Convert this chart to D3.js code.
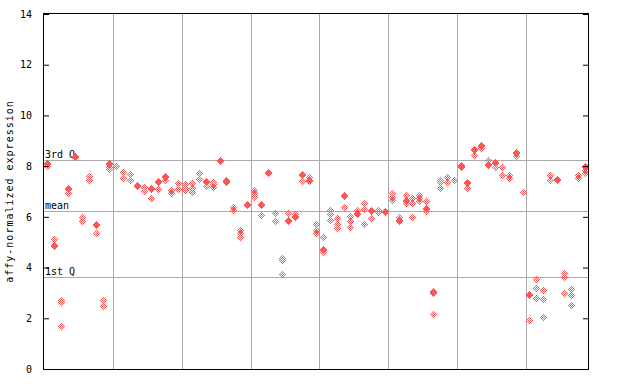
<!DOCTYPE html>
<html>
<head>
<meta charset="utf-8">
<script src="https://cdn.jsdelivr.net/npm/d3@7"></script>
<style>
  body { margin: 0; background: #fff; }
  text { font-family: "DejaVu Sans Mono", monospace; font-size: 10px; fill: #000; }
</style>
</head>
<body>
<div id="chart"></div>
<script>
'use strict';

// one list of expression values per sample (left to right)
var sampleValues = [
	[8.14, 8.10, 8.0], [5.11, 4.88, 4.84], [2.71, 2.64, 1.68], [7.12, 7.08, 6.93],
	[8.39, 8.35], [6.01, 5.82], [7.62, 7.45], [5.70, 5.66, 5.35],
	[2.71, 2.47], [8.12, 8.08, 7.98, 7.87], [8.01], [7.78, 7.53],
	[7.68, 7.44], [7.24, 7.20], [7.17, 7.03], [7.12, 7.08, 6.73],
	[7.41, 7.37, 7.11], [7.60, 7.56, 7.45], [7.06, 6.93], [7.32, 7.09],
	[7.30, 7.15, 7.04], [7.32, 7.15, 7.0], [7.74, 7.48], [7.43, 7.39, 7.21],
	[7.39, 7.28, 7.17], [8.26, 8.22], [7.47, 7.43, 7.36], [6.40, 6.27],
	[5.47, 5.35, 5.22], [6.50, 6.46], [7.06, 6.93, 6.80], [6.50, 6.46, 6.06],
	[7.78, 7.72], [6.15, 5.84], [4.38, 4.30, 3.73], [6.15, 5.87, 5.83],
	[6.10, 6.03, 5.99], [7.68, 7.64, 7.43], [7.58, 7.47, 7.43], [5.70, 5.47, 5.38],
	[5.19, 4.74, 4.70, 4.63], [6.27, 6.10, 5.86], [5.94, 5.73, 5.57], [6.86, 6.82, 6.38],
	[6.03, 5.85, 5.61], [6.26, 6.14, 6.10], [6.53, 6.30, 5.71], [6.29, 6.25, 5.94],
	[6.28, 6.20], [6.24, 6.20], [6.93, 6.80, 6.66], [5.98, 5.87, 5.83],
	[6.85, 6.66, 6.62, 6.53], [6.73, 6.53, 5.98], [6.86, 6.73, 6.61], [6.61, 6.36, 6.32, 6.24],
	[3.07, 3.03, 2.98, 2.16], [7.45, 7.39, 7.12], [7.58, 7.39], [7.45],
	[8.04, 8.0, 7.96], [7.38, 7.34, 7.12], [8.66, 8.62, 8.44], [8.83, 8.79, 8.70],
	[8.24, 8.08, 8.04], [8.16, 8.12, 7.95], [7.95, 7.67], [7.67, 7.52],
	[8.55, 8.51, 8.40], [6.97], [2.94, 2.90, 1.92], [3.54, 3.18, 2.79],
	[3.10, 2.75, 2.04], [7.67, 7.45], [7.51, 7.47], [3.77, 3.62, 2.98],
	[3.14, 2.90, 2.51], [7.67, 7.52], [8.0, 7.96, 7.85, 7.72]
];
var yTicks = [0, 2, 4, 6, 8, 10, 12, 14];
var xGrid = [10, 20, 30, 40, 50, 60, 70];
var refLines = [8.23, 6.23, 3.63];
var refLabels = ['3rd Q', 'mean', '1st Q'];

var width = 640, height = 384;
var margin = {top: 14, right: 52, bottom: 15, left: 44};
var w = width - margin.left - margin.right;
var h = height - margin.top - margin.bottom;
var red = '#ff5555';

var svg = d3.select('#chart').append('svg')
	.attr('width', width)
	.attr('height', height);

var g = svg.append('g')
	.attr('transform', 'translate(' + margin.left + ',' + margin.top + ')');

var x = d3.scaleLinear().domain([0, sampleValues.length]).range([0, w]);
var y = d3.scaleLinear().domain([0, 14]).range([h, 0]);

// grid
g.selectAll('line.vgrid').data(xGrid).enter().append('line')
	.attr('class', 'vgrid')
	.attr('x1', function(d){ return Math.round(x(d)) + 0.5; })
	.attr('x2', function(d){ return Math.round(x(d)) + 0.5; })
	.attr('y1', 0).attr('y2', h)
	.attr('stroke', '#aaa');

g.selectAll('line.qline').data(refLines).enter().append('line')
	.attr('class', 'qline')
	.attr('x1', 0).attr('x2', w)
	.attr('y1', function(d){ return Math.round(y(d)) + 0.5; })
	.attr('y2', function(d){ return Math.round(y(d)) + 0.5; })
	.attr('stroke', '#aaa');

g.selectAll('text.qlabel').data(refLines).enter().append('text')
	.attr('class', 'qlabel')
	.attr('x', 1)
	.attr('y', function(d){ return Math.round(y(d)) - 2; })
	.text(function(d, i){ return refLabels[i]; });

// points: each drawn as a checkered pixel diamond, so near-identical values fill in
var points = [];
sampleValues.forEach(function(vals, i){
	vals.forEach(function(v){ points.push({i: i, v: v}); });
});

function diamond(d){
	var cx = Math.round(x(d.i + 0.5)), cy = Math.round(y(d.v));
	var p = '';
	for (var dy = -3; dy <= 3; dy++) {
		for (var dx = -3; dx <= 3; dx++) {
			var r = Math.abs(dx) + Math.abs(dy);
			if (r > 3 || r % 2 === 0) continue;
			p += 'M' + (cx + dx) + ' ' + (cy + dy) + 'h1v1h-1z';
		}
	}
	return p;
}

g.selectAll('path.pt').data(points).enter().append('path')
	.attr('class', 'pt')
	.attr('d', diamond)
	.attr('fill', red)
	.attr('shape-rendering', 'crispEdges');

// frame
g.append('rect')
	.attr('x', -0.5).attr('y', -0.5)
	.attr('width', w + 1).attr('height', h + 1)
	.attr('fill', 'none')
	.attr('stroke', '#000');

// y axis, ticks pointing inwards
var yAxis = g.append('g').call(d3.axisLeft(y).tickValues(yTicks).tickSize(-5).tickPadding(12));
yAxis.select('.domain').remove();
yAxis.selectAll('text').style('font-family', '"DejaVu Sans Mono", monospace').style('font-size', '10px');

var yAxisR = g.append('g')
	.attr('transform', 'translate(' + w + ',0)')
	.call(d3.axisRight(y).tickValues(yTicks).tickSize(-5).tickFormat(''));
yAxisR.select('.domain').remove();

svg.append('text')
	.attr('transform', 'translate(13,' + (margin.top + h / 2) + ') rotate(-90)')
	.attr('text-anchor', 'middle')
	.style('letter-spacing', '1px')
	.text('affy-normalized expression');
</script>
</body>
</html>
